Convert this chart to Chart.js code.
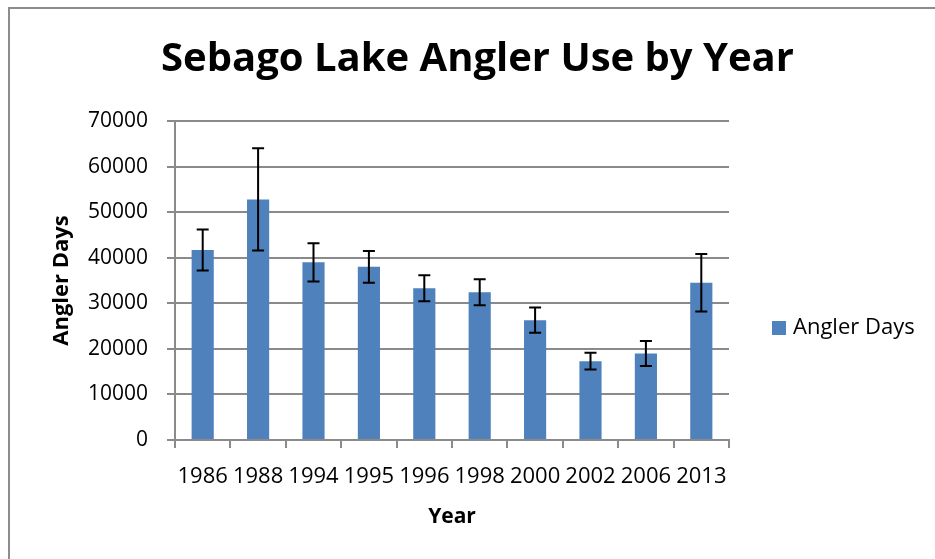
<!DOCTYPE html>
<html>
<head>
<meta charset="utf-8">
<script src="https://cdn.jsdelivr.net/npm/chart.js@4/dist/chart.umd.min.js"></script>
<style>
  html, body { margin: 0; padding: 0; background: #ffffff; }
  #wrap { width: 935px; height: 559px; }
</style>
</head>
<body>
<div id="wrap"><canvas id="c" width="935" height="559"></canvas></div>
<script>
// ---- data ----
const years = ['1986', '1988', '1994', '1995', '1996', '1998', '2000', '2002', '2006', '2013'];
const anglerDays = [41700, 52800, 39000, 38000, 33300, 32400, 26300, 17300, 19000, 34500];
const anglerDaysError = [4500, 11200, 4200, 3500, 2850, 2850, 2750, 1850, 2750, 6300];
const yTickValues = [0, 10000, 20000, 30000, 40000, 50000, 60000, 70000];
const seriesName = 'Angler Days';
const chartTitle = 'Sebago Lake Angler Use by Year';
const xTitle = 'Year';
const yTitle = 'Angler Days';

const FONT = "'Open Sans', 'Liberation Sans', sans-serif";
const GRID = '#8a8a8a';
const BAR = '#4F81BD';

// outer frame (Excel chart border, left and top visible)
const framePlugin = {
  id: 'frame',
  beforeDraw(chart) {
    const ctx = chart.ctx;
    ctx.save();
    ctx.fillStyle = '#ffffff';
    ctx.fillRect(0, 0, chart.width, chart.height);
    ctx.strokeStyle = '#8c8c8c';
    ctx.lineWidth = 2;
    ctx.beginPath();
    ctx.moveTo(9, chart.height + 2);
    ctx.lineTo(9, 8);
    ctx.lineTo(chart.width + 2, 8);
    ctx.stroke();
    ctx.restore();
  }
};

// error bars drawn through the chart's own scales
const errorBarPlugin = {
  id: 'errorBars',
  afterDatasetsDraw(chart) {
    const ctx = chart.ctx;
    const yScale = chart.scales.y;
    chart.data.datasets.forEach((ds, di) => {
      if (!ds.errors) return;
      const meta = chart.getDatasetMeta(di);
      ctx.save();
      ctx.strokeStyle = '#000000';
      ctx.lineWidth = 2;
      meta.data.forEach((bar, i) => {
        const v = ds.data[i];
        const e = ds.errors[i];
        const x = bar.x;
        const yTop = yScale.getPixelForValue(v + e);
        const yBot = yScale.getPixelForValue(v - e);
        const cap = 6;
        ctx.beginPath();
        ctx.moveTo(x, yTop); ctx.lineTo(x, yBot);
        ctx.moveTo(x - cap, yTop); ctx.lineTo(x + cap, yTop);
        ctx.moveTo(x - cap, yBot); ctx.lineTo(x + cap, yBot);
        ctx.stroke();
      });
      ctx.restore();
    });
  }
};

// legend on the right, placed like the Excel original
const sideLegendPlugin = {
  id: 'sideLegend',
  afterDraw(chart) {
    const ctx = chart.ctx;
    const ds = chart.data.datasets[0];
    const boxX = 772, boxY = 321, boxS = 14;
    ctx.save();
    ctx.fillStyle = ds.backgroundColor;
    ctx.fillRect(boxX, boxY, boxS, boxS);
    ctx.fillStyle = '#000000';
    ctx.font = "22px " + FONT;
    ctx.textBaseline = 'middle';
    ctx.textAlign = 'left';
    ctx.fillText(ds.label, 793, boxY + boxS / 2);
    ctx.restore();
  }
};

new Chart(document.getElementById('c'), {
  type: 'bar',
  data: {
    labels: years,
    datasets: [{
      label: seriesName,
      data: anglerDays,
      errors: anglerDaysError,
      backgroundColor: BAR,
      borderWidth: 0,
      barPercentage: 0.4,
      categoryPercentage: 1.0
    }]
  },
  options: {
    responsive: false,
    devicePixelRatio: 1,
    animation: false,
    layout: { padding: { left: 20, top: 0, right: 0, bottom: 0 } },
    plugins: {
      legend: { display: false },
      tooltip: { enabled: false },
      title: {
        display: true,
        text: chartTitle,
        color: '#000000',
        font: { family: FONT, size: 40, weight: 'bold' },
        padding: { top: 36, bottom: 37 }
      }
    },
    scales: {
      x: {
        offset: true,
        grid: {
          display: true,
          offset: true,
          drawOnChartArea: false,
          drawTicks: true,
          tickLength: 8,
          color: GRID,
          lineWidth: 2
        },
        border: { display: true, color: GRID, width: 2 },
        ticks: {
          color: '#000000',
          font: { family: FONT, size: 22 },
          padding: 16,
          maxRotation: 0,
          autoSkip: false
        },
        title: {
          display: true,
          text: xTitle,
          color: '#000000',
          font: { family: FONT, size: 21, weight: 'bold' },
          padding: { top: 0, bottom: 29 }
        },
        afterFit(scale) { scale.height = 119; }
      },
      y: {
        min: 0,
        max: 70000,
        afterBuildTicks(scale) { scale.ticks = yTickValues.map(v => ({ value: v })); },
        grid: {
          color: GRID,
          lineWidth: 2,
          drawTicks: true,
          tickLength: 8
        },
        border: { display: true, color: GRID, width: 2 },
        ticks: {
          color: '#000000',
          font: { family: FONT, size: 21 },
          padding: 19,
          callback: (v) => String(v)
        },
        title: {
          display: true,
          text: yTitle,
          color: '#000000',
          font: { family: FONT, size: 22, weight: 'bold' },
          padding: { top: 29, bottom: 0 }
        },
        afterFit(scale) { scale.width = 155; }
      },
      // empty right-hand band that reserves the legend area
      legendSpace: {
        type: 'linear',
        position: 'right',
        display: true,
        grid: { display: false, drawTicks: false },
        border: { display: false },
        ticks: { display: false },
        afterFit(scale) { scale.width = 206; }
      }
    }
  },
  plugins: [framePlugin, errorBarPlugin, sideLegendPlugin]
});
</script>
</body>
</html>
